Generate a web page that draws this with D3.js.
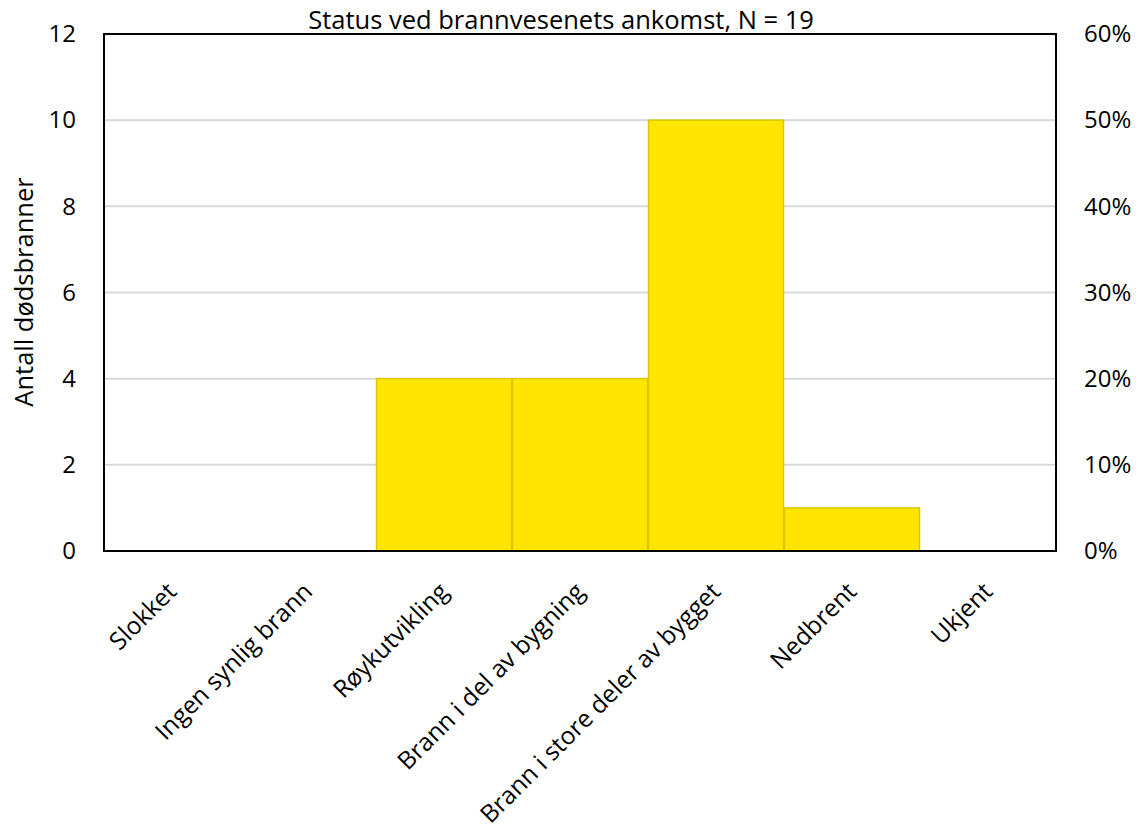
<!DOCTYPE html>
<html><head><meta charset="utf-8">
<script src="https://cdn.jsdelivr.net/npm/d3@7"></script>
<style>body{margin:0;background:#fff}svg{display:block}text{font-family:"Open Sans",sans-serif;fill:#000}</style>
</head><body><svg id="c" width="1139" height="830"></svg>
<script>
const categories = ["Slokket","Ingen synlig brann","Røykutvikling","Brann i del av bygning","Brann i store deler av bygget","Nedbrent","Ukjent"];
const values = [0,0,4,4,10,1,0];
const leftTicks = [0,2,4,6,8,10,12];
const rightTicks = [0,0.1,0.2,0.3,0.4,0.5,0.6];
const title = "Status ved brannvesenets ankomst, N = 19";
const yTitle = "Antall dødsbranner";

const FONT = "'Open Sans',sans-serif";
const svg = d3.select("#c");
const m = {l:104,r:1056,t:34,b:551};
const x = d3.scaleBand().domain(categories).range([m.l,m.r]).padding(0);
const y = d3.scaleLinear().domain([0,12]).range([m.b,m.t]);
const y2 = d3.scaleLinear().domain([0,0.6]).range([m.b,m.t]);

// gridlines
svg.append("g").selectAll("line").data(leftTicks.filter(d=>d>0&&d<12)).join("line")
  .attr("x1",m.l).attr("x2",m.r).attr("y1",d=>y(d)).attr("y2",d=>y(d))
  .attr("stroke","#d9d9d9").attr("stroke-width",2);

// bars
svg.append("g").selectAll("rect").data(values.map((v,i)=>({c:categories[i],v}))).join("rect")
  .filter(d=>d.v>0)
  .attr("x",d=>x(d.c)+0.5).attr("width",x.bandwidth()-1)
  .attr("y",d=>y(d.v)).attr("height",d=>y(0)-y(d.v))
  .attr("fill","#ffe500").attr("stroke","#dcc800").attr("stroke-width",1.5);

// frame
svg.append("rect").attr("x",m.l).attr("y",m.t).attr("width",m.r-m.l).attr("height",m.b-m.t)
  .attr("fill","none").attr("stroke","#000").attr("stroke-width",2);

// left axis labels
const la = d3.axisLeft(y).tickValues(leftTicks).tickSize(0).tickPadding(28);
const gl = svg.append("g").attr("transform",`translate(${m.l},0)`).call(la);
gl.select(".domain").remove();
gl.selectAll("text").attr("font-size",24).style("font-family",FONT);

const ra = d3.axisRight(y2).tickValues(rightTicks).tickSize(0).tickPadding(28).tickFormat(d3.format(".0%"));
const gr = svg.append("g").attr("transform",`translate(${m.r},0)`).call(ra);
gr.select(".domain").remove();
gr.selectAll("text").attr("font-size",24).style("font-family",FONT);

// x labels
const xa = d3.axisBottom(x).tickSize(0).tickPadding(0);
const gx = svg.append("g").attr("transform",`translate(0,${m.b})`).call(xa);
gx.select(".domain").remove();
gx.selectAll("text").attr("font-size",24.5).style("font-family",FONT)
  .attr("text-anchor","end").attr("dy",null).attr("y",0)
  .attr("transform","translate(6,42) rotate(-45)");

svg.append("text").attr("x",561).attr("y",29).attr("text-anchor","middle").attr("font-size",25.5).text(title);
svg.append("text").attr("transform",`translate(33,${292}) rotate(-90)`).attr("text-anchor","middle").attr("font-size",25.5).text(yTitle);
</script></body></html>
